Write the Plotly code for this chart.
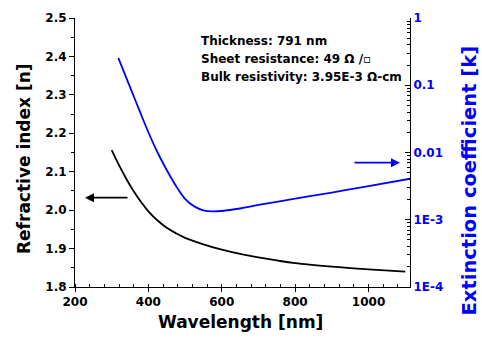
import plotly.graph_objects as go

# Refractive index n (left axis)
wl_n = [300, 320, 340, 360, 380, 400, 425, 450, 475, 500, 550, 600, 650, 700, 750, 800, 900, 1000, 1100]
n_vals = [2.156, 2.117, 2.081, 2.049, 2.021, 1.997, 1.973, 1.954, 1.940, 1.928, 1.911, 1.897, 1.886, 1.877,
          1.869, 1.862, 1.853, 1.846, 1.840]

# Extinction coefficient k (right, log axis)
wl_k = [318, 350, 375, 400, 425, 450, 475, 500, 525, 550, 575, 600, 650, 700, 800, 900, 1000, 1120]
k_vals = [0.255, 0.094, 0.043, 0.020, 0.0100, 0.0055, 0.0032, 0.00205, 0.00158, 0.00138, 0.00133,
          0.00135, 0.00147, 0.00166, 0.00206, 0.00254, 0.00316, 0.00413]

k_tickvals = [1, 0.1, 0.01, 1e-3, 1e-4]
k_ticktext = ["1", "0.1", "0.01", "1E-3", "1E-4"]
info_lines = ["Thickness: 791 nm", "Sheet resistance: 49 \u03a9 /\u25ab", "Bulk resistivity: 3.95E-3 \u03a9-cm"]

FONT = "DejaVu Sans"
BLUE = "#0000ff"

fig = go.Figure()
fig.add_trace(go.Scatter(x=wl_n, y=n_vals, mode="lines", line=dict(color="black", width=1.8, shape="spline"),
                         showlegend=False, yaxis="y"))
fig.add_trace(go.Scatter(x=wl_k, y=k_vals, mode="lines", line=dict(color=BLUE, width=1.8, shape="spline"),
                         showlegend=False, yaxis="y2"))

minor_k = [m * 10.0 ** e for e in range(-4, 0) for m in range(2, 10)]

fig.update_layout(
    width=482, height=343,
    margin=dict(l=75, r=72, t=18, b=56),
    paper_bgcolor="white", plot_bgcolor="white",
    font=dict(family=FONT, color="black"),
    xaxis=dict(range=[200, 1113], showline=True, linecolor="black", linewidth=1, showgrid=False, zeroline=False,
               ticks="outside", ticklen=4, tickcolor="black", dtick=200, tick0=0,
               tickfont=dict(family=FONT, size=12, weight="bold", color="black"),
               minor=dict(ticks="inside", ticklen=3, dtick=40, tickcolor="black")),
    yaxis=dict(range=[1.8, 2.5], showline=True, linecolor="black", linewidth=1, showgrid=False, zeroline=False,
               ticks="outside", ticklen=5, tickcolor="black", dtick=0.1, tick0=0, tickformat=".1f",
               tickfont=dict(family=FONT, size=12, weight="bold", color="black"),
               minor=dict(ticks="outside", ticklen=3, dtick=0.05, tickcolor="black")),
    yaxis2=dict(type="log", range=[-4, 0], overlaying="y", side="right", anchor="x",
                showline=True, linecolor="black", linewidth=1, showgrid=False, zeroline=False,
                ticks="inside", ticklen=5, tickcolor="black", tickvals=k_tickvals, ticktext=k_ticktext,
                tickfont=dict(family=FONT, size=12, weight="bold", color=BLUE),
                minor=dict(ticks="inside", ticklen=3, tickvals=minor_k, tickcolor="black")),
)

# axis titles
fig.add_annotation(text="Wavelength [nm]", xref="paper", yref="paper", x=(240 - 75) / 335, y=-(322 - 287) / 269,
                   showarrow=False, font=dict(family=FONT, size=17, weight="bold", color="black"),
                   xanchor="center", yanchor="middle")
fig.add_annotation(text="Refractive index [n]", xref="paper", yref="paper", x=(24 - 75) / 335, y=(287 - 159) / 269,
                   showarrow=False, textangle=-90, font=dict(family=FONT, size=17, weight="bold", color="black"),
                   xanchor="center", yanchor="middle")
fig.add_annotation(text="Extinction coefficient [k]", xref="paper", yref="paper", x=(468.5 - 75) / 335,
                   y=(287 - 181) / 269,
                   showarrow=False, textangle=-90, font=dict(family=FONT, size=19.5, weight="bold", color=BLUE),
                   xanchor="center", yanchor="middle")

# info text
for t, yc in zip(info_lines, [40.7, 59.3, 76.7]):
    fig.add_annotation(text=t, xref="paper", yref="paper", x=(199 - 75) / 335, y=(287 - yc) / 269,
                       showarrow=False, xanchor="left", yanchor="middle",
                       font=dict(family=FONT, size=12, weight="bold", color="black"))

# arrows
fig.add_annotation(x=227.3, y=2.0324, xref="x", yref="y", ax=44, ay=0, axref="pixel", ayref="pixel",
                   text="", showarrow=True, arrowhead=2, arrowsize=1, arrowwidth=1.8, arrowcolor="black")
fig.add_annotation(x=1085.8, y=-2.152, xref="x", yref="y2", ax=-47, ay=0, axref="pixel", ayref="pixel",
                   text="", showarrow=True, arrowhead=2, arrowsize=1, arrowwidth=1.8, arrowcolor=BLUE)

fig.write_html("out.html")
